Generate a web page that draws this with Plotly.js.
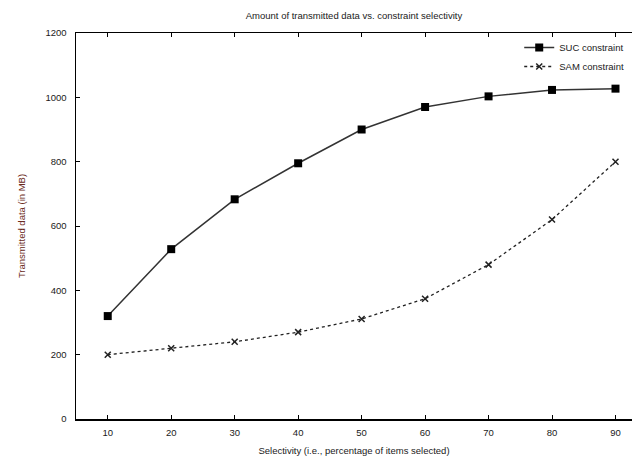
<!DOCTYPE html>
<html>
<head>
<meta charset="utf-8">
<script src="https://cdn.plot.ly/plotly-3.0.1.min.js"></script>
<style>html,body{margin:0;padding:0;background:#fff;}#chart{width:632px;height:459px;}</style>
</head>
<body>
<div id="chart"></div>
<script>
const selectivity = [10, 20, 30, 40, 50, 60, 70, 80, 90];
const sucValues = [320, 528, 683, 795, 900, 970, 1003, 1023, 1027];
const samValues = [200, 220, 240, 270, 311, 374, 480, 620, 800];
const seriesNames = ['SUC constraint', 'SAM constraint'];
const yTicks = [0, 200, 400, 600, 800, 1000, 1200];

const font = {family: 'Liberation Sans, Arial, sans-serif', size: 9.5, color: '#1a1a1a'};

const traces = [
  {x: selectivity, y: sucValues, name: seriesNames[0], type: 'scatter', mode: 'lines+markers',
   line: {color: '#333', width: 1.5}, marker: {symbol: 'square', size: 8, color: '#000'}},
  {x: selectivity, y: samValues, name: seriesNames[1], type: 'scatter', mode: 'lines+markers',
   line: {color: '#222', width: 1.3, dash: 'dot'}, marker: {symbol: 'x-thin-open', size: 6, color: '#222', line: {width: 1.5, color: '#222'}}}
];

const layout = {
  width: 632, height: 459,
  margin: {l: 76, r: 0, t: 33, b: 40},
  paper_bgcolor: '#fff', plot_bgcolor: '#fff',
  font: font,
  title: {text: 'Amount of transmitted data vs. constraint selectivity', font: {family: font.family, size: 9.5, color: '#1a1a1a'}, x: 0.5, xref: 'paper', y: 0.965, yanchor: 'middle'},
  xaxis: {range: [5, 92.6], tickvals: selectivity, ticks: 'inside', ticklen: 4, tickcolor: '#000', ticklabelstandoff: 4,
          showline: true, linecolor: '#000', linewidth: 1.5, mirror: 'allticks', showgrid: false, zeroline: false,
          tickfont: font, title: {text: 'Selectivity (i.e., percentage of items selected)', font: font, standoff: 10}},
  yaxis: {range: [0, 1200], tickvals: yTicks, ticks: 'inside', ticklen: 4, tickcolor: '#000', ticklabelstandoff: 6,
          showline: true, linecolor: '#000', linewidth: 1.5, mirror: false, showgrid: false, zeroline: false,
          tickfont: font, title: {text: 'Transmitted data (in MB)', font: {family: font.family, size: 9.5, color: '#6a2a20'}, standoff: 18}},
  showlegend: true,
  legend: {x: 0.995, xanchor: 'right', y: 1.0, yanchor: 'top', bgcolor: 'rgba(255,255,255,0)', font: font, tracegroupgap: 0}
};

Plotly.newPlot('chart', traces, layout, {displayModeBar: false, staticPlot: true});
</script>
</body>
</html>
